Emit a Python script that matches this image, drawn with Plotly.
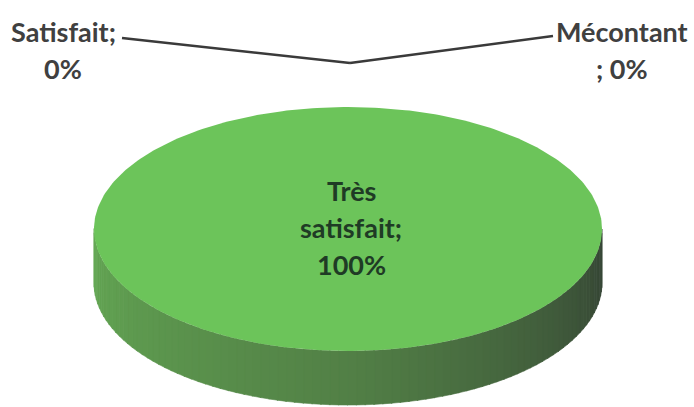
import numpy as np
import plotly.graph_objects as go

# ---- data ----
categories = ["Satisfait", "Mécontant", "Très satisfait"]
values = [0, 0, 100]
label_lines = [["Satisfait;", "0%"], ["Mécontant", "; 0%"], ["Très", "satisfait;", "100%"]]

# ---- geometry (pixel space) ----
W, H = 694, 407
cx, cy, rx, ry, depth = 348, 229, 254, 122, 54
top_color = "#6cc45a"

fig = go.Figure()

total = sum(values)
start = -np.pi / 2  # top, clockwise in y-down pixel space
angles = []
a = start
for v in values:
    span = 2 * np.pi * v / total
    angles.append((a, a + span))
    a += span

def lerp(c1, c2, f):
    return tuple(int(round(c1[i] + (c2[i] - c1[i]) * f)) for i in range(3))

left_c = (100, 168, 84)
mid_c = (82, 128, 70)
right_c = (52, 66, 52)
n = 90
for i, (a0, a1) in enumerate(angles):
    if values[i] == 0:
        continue
    ts = np.linspace(0, np.pi, n + 1)
    for k in range(n):
        t0, t1 = ts[k], ts[k + 1] + 0.004
        xs = [cx + rx * np.cos(t) for t in np.linspace(t0, t1, 3)]
        ys = [cy + ry * np.sin(t) for t in np.linspace(t0, t1, 3)]
        px = xs + xs[::-1] + [xs[0]]
        py = ys + [y + depth for y in ys[::-1]] + [ys[0]]
        f = ((t0 + t1) / 2) / np.pi  # 0 = right, 1 = left
        if f < 0.5:
            c = lerp(right_c, mid_c, f / 0.5)
        else:
            c = lerp(mid_c, left_c, (f - 0.5) / 0.5)
        col = "rgb(%d,%d,%d)" % c
        fig.add_trace(go.Scatter(x=px, y=py, mode="lines", fill="toself",
                                 fillcolor=col, line=dict(width=0.6, color=col),
                                 hoverinfo="skip", showlegend=False))

for i, (a0, a1) in enumerate(angles):
    if values[i] == 0:
        continue
    ts = np.linspace(a0, a1, 361)
    xs = list(cx + rx * np.cos(ts))
    ys = list(cy + ry * np.sin(ts))
    if values[i] < total:
        xs = [cx] + xs + [cx]
        ys = [cy] + ys + [cy]
    fig.add_trace(go.Scatter(x=xs, y=ys, mode="lines", fill="toself",
                             fillcolor=top_color, line=dict(width=0, color=top_color),
                             name=categories[i], hoverinfo="name", showlegend=False))

font_grey = dict(family="Lato, Open Sans, sans-serif", size=27, color="#404040")
font_in = dict(family="Lato, Open Sans, sans-serif", size=27, color="#1f3b25")
line_gap = 37
label_pos = {0: (63, 31), 1: (622, 31), 2: (cx + 3, 190)}
anchor_x, anchor_y = cx + 2, cy - ry - 44
for i, lines in enumerate(label_lines):
    lx, ly = label_pos[i]
    f = font_in if values[i] > 0 else font_grey
    for j, t in enumerate(lines):
        fig.add_annotation(x=lx, y=ly + j * line_gap, text="<b>%s</b>" % t,
                           showarrow=False, font=f, xanchor="center", yanchor="middle")

leader_ends = {0: (122, 38), 1: (553, 36)}
for i, (ex, ey) in leader_ends.items():
    fig.add_trace(go.Scatter(x=[ex, anchor_x], y=[ey, anchor_y], mode="lines",
                             line=dict(color="#3a3a3a", width=2.6),
                             hoverinfo="skip", showlegend=False))

fig.update_layout(
    width=W, height=H, margin=dict(l=0, r=0, t=0, b=0),
    paper_bgcolor="white", plot_bgcolor="white",
    xaxis=dict(range=[0, W], visible=False, fixedrange=True),
    yaxis=dict(range=[H, 0], visible=False, fixedrange=True),
    showlegend=False,
)
fig.write_html("out.html", config={"displayModeBar": False},
               post_script="document.body.style.margin='0';document.body.style.overflow='hidden';")
